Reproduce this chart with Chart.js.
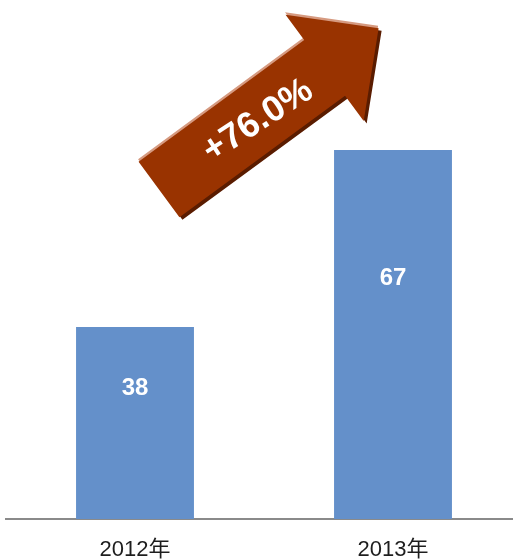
<!DOCTYPE html>
<html><head><meta charset="utf-8">
<script src="https://cdn.jsdelivr.net/npm/chart.js@4"></script>
<style>html,body{margin:0;padding:0;overflow:hidden;background:#fff}#wrap{width:522px;height:560px}</style>
</head><body><div id="wrap"><canvas id="c" width="522" height="560"></canvas></div>
<script>
const categories = ['2012年', '2013年'];
const values = [38, 67];
const growthLabel = '+76.0%';

const FONT = "'Liberation Sans', Arial, 'Noto Sans CJK SC', sans-serif";

const valueLabels = {
  id: 'valueLabels',
  afterDatasetsDraw(chart) {
    const ctx = chart.ctx;
    const meta = chart.getDatasetMeta(0);
    const bottom = chart.chartArea.bottom;
    ctx.save();
    ctx.fillStyle = '#ffffff';
    ctx.font = "bold 24px " + FONT;
    ctx.textAlign = 'center';
    ctx.textBaseline = 'middle';
    meta.data.forEach((bar, i) => {
      const h = bottom - bar.y;
      const y = bar.y + 0.3785 * h - 11.7;
      ctx.fillText(String(chart.data.datasets[0].data[i]), bar.x, y);
    });
    ctx.restore();
  }
};

const growthArrow = {
  id: 'growthArrow',
  afterDraw(chart) {
    const ctx = chart.ctx;
    const tail = {x: 159, y: 189.5};
    const ang = -36.3 * Math.PI / 180;
    const shaftLen = 205.5, shaftW = 69, headW = 132, headLen = 67;
    const pts = [
      [0, -shaftW / 2], [shaftLen, -shaftW / 2], [shaftLen, -headW / 2],
      [shaftLen + headLen, 0], [shaftLen, headW / 2], [shaftLen, shaftW / 2], [0, shaftW / 2]
    ];
    const c = Math.cos(ang), s = Math.sin(ang);
    const P = pts.map(([u, v]) => [tail.x + u * c - v * s, tail.y + u * s + v * c]);
    const poly = (dx, dy, col) => {
      ctx.beginPath();
      P.forEach(([x, y], i) => i ? ctx.lineTo(x + dx, y + dy) : ctx.moveTo(x + dx, y + dy));
      ctx.closePath();
      ctx.fillStyle = col;
      ctx.fill();
    };
    ctx.save();
    poly(3, 2.5, '#5a1c00');
    poly(-0.5, -2.5, '#d69a80');
    poly(0, 0, '#993300');
    ctx.translate(258, 121);
    ctx.rotate(-33 * Math.PI / 180);
    ctx.fillStyle = '#ffffff';
    ctx.font = "bold 36px " + FONT;
    ctx.textAlign = 'center';
    ctx.textBaseline = 'middle';
    ctx.fillText(growthLabel, 0, 0);
    ctx.restore();
  }
};

new Chart(document.getElementById('c'), {
  type: 'bar',
  data: {
    labels: categories,
    datasets: [{
      data: values,
      backgroundColor: '#6490CA',
      borderWidth: 0,
      barPercentage: 0.457,
      categoryPercentage: 1
    }]
  },
  options: {
    responsive: false,
    animation: false,
    devicePixelRatio: 1,
    layout: {padding: {left: 6, right: 0, top: 0, bottom: 0}},
    plugins: {legend: {display: false}, tooltip: {enabled: false}},
    scales: {
      y: {display: false, min: 6.5, max: 91.6},
      x: {
        afterFit(scale) { scale.height = 41; },
        grid: {display: false, drawTicks: false},
        border: {display: true, color: '#8a8a8a', width: 2},
        ticks: {color: '#1e1e1e', font: {size: 22, family: FONT}, padding: 18, maxRotation: 0}
      }
    }
  },
  plugins: [valueLabels, growthArrow]
});
</script></body></html>
